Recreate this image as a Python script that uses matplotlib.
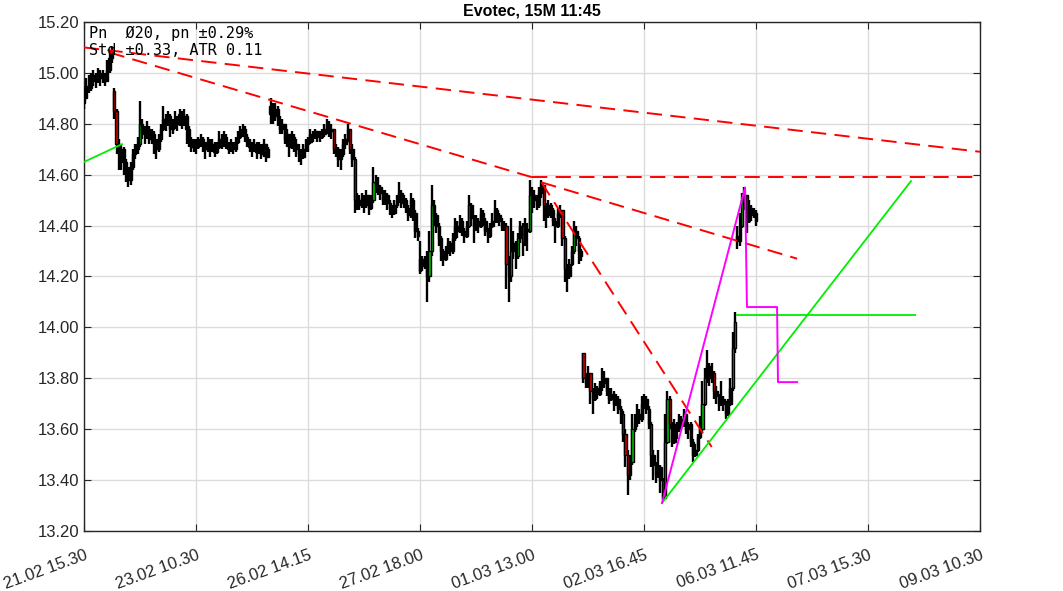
import numpy as np
import matplotlib.pyplot as plt

plt.rcParams['font.family'] = ['Liberation Sans', 'DejaVu Sans']
plt.rcParams['lines.scale_dashes'] = False

# x axis: 15 minute bars, tick every 48 bars
tick_pos = [0, 48, 96, 144, 192, 240, 288, 336, 384]
tick_labels = ["21.02 15.30", "23.02 10.30", "26.02 14.15", "27.02 18.00",
               "01.03 13.00", "02.03 16.45", "06.03 11.45", "07.03 15.30",
               "09.03 10.30"]

# first bar of every session and its open
session_open = {0: 14.88, 13: 14.93, 80: 14.84, 144: 14.22, 214: 13.90, 280: 14.36}

close_s1 = [14.90, 14.95, 14.94, 14.97, 14.99, 14.97, 15.00, 14.98, 14.99, 14.97, 15.01, 15.06, 15.08]
high_s1 = [14.95, 14.98, 14.99, 15.00, 15.01, 15.00, 15.02, 15.01, 15.01, 15.00, 15.05, 15.09, 15.10]
low_s1 = [14.86, 14.90, 14.92, 14.93, 14.95, 14.94, 14.96, 14.95, 14.96, 14.95, 14.97, 15.00, 15.04]

close_s2 = [14.85, 14.72, 14.68, 14.70, 14.65, 14.62, 14.58, 14.63, 14.68, 14.70,
            14.72, 14.80, 14.77, 14.76, 14.78, 14.74, 14.76, 14.72, 14.70, 14.74,
            14.78, 14.82, 14.80, 14.83, 14.78, 14.80, 14.82, 14.80, 14.84, 14.81,
            14.83, 14.78, 14.74, 14.71, 14.72, 14.71, 14.73, 14.74, 14.72, 14.70,
            14.73, 14.71, 14.72, 14.69, 14.71, 14.74, 14.72, 14.75, 14.72, 14.70,
            14.72, 14.70, 14.73, 14.75, 14.77, 14.78, 14.75, 14.73, 14.71, 14.70,
            14.72, 14.69, 14.71, 14.68, 14.72, 14.67, 14.70]
high_s2 = [14.94, 14.86, 14.74, 14.72, 14.71, 14.66, 14.63, 14.65, 14.70, 14.72,
           14.75, 14.89, 14.82, 14.79, 14.81, 14.79, 14.78, 14.77, 14.74, 14.76,
           14.80, 14.87, 14.84, 14.85, 14.84, 14.82, 14.85, 14.83, 14.86, 14.85,
           14.86, 14.84, 14.79, 14.75, 14.74, 14.74, 14.75, 14.76, 14.75, 14.73,
           14.75, 14.74, 14.74, 14.73, 14.73, 14.77, 14.76, 14.77, 14.76, 14.73,
           14.74, 14.73, 14.75, 14.77, 14.79, 14.80, 14.79, 14.76, 14.74, 14.73,
           14.74, 14.73, 14.73, 14.72, 14.74, 14.72, 14.71]
low_s2 = [14.82, 14.68, 14.62, 14.62, 14.60, 14.57, 14.55, 14.56, 14.62, 14.66,
          14.68, 14.71, 14.74, 14.72, 14.74, 14.72, 14.72, 14.68, 14.66, 14.69,
          14.73, 14.77, 14.77, 14.79, 14.75, 14.76, 14.78, 14.77, 14.79, 14.78,
          14.79, 14.72, 14.71, 14.69, 14.69, 14.68, 14.70, 14.71, 14.69, 14.66,
          14.69, 14.67, 14.69, 14.67, 14.68, 14.70, 14.70, 14.71, 14.70, 14.68,
          14.69, 14.68, 14.69, 14.72, 14.74, 14.75, 14.73, 14.71, 14.69, 14.67,
          14.69, 14.66, 14.68, 14.66, 14.67, 14.65, 14.67]

close_s3 = [14.87, 14.83, 14.86, 14.82, 14.78, 14.80, 14.74, 14.76, 14.71, 14.75,
            14.72, 14.70, 14.68, 14.67, 14.70, 14.72, 14.73, 14.76, 14.75, 14.77,
            14.75, 14.75, 14.76, 14.78, 14.80, 14.77, 14.78, 14.70, 14.70, 14.66,
            14.68, 14.72, 14.74, 14.78, 14.70, 14.66, 14.50, 14.50, 14.48, 14.51,
            14.48, 14.52, 14.47, 14.50, 14.57, 14.56, 14.55, 14.53, 14.50, 14.52,
            14.49, 14.47, 14.45, 14.48, 14.50, 14.53, 14.49, 14.50, 14.47, 14.44,
            14.50, 14.45, 14.38, 14.36]
high_s3 = [14.90, 14.88, 14.88, 14.87, 14.83, 14.82, 14.80, 14.78, 14.76, 14.77,
           14.76, 14.74, 14.72, 14.70, 14.72, 14.74, 14.75, 14.78, 14.77, 14.78,
           14.77, 14.77, 14.78, 14.80, 14.82, 14.81, 14.80, 14.78, 14.72, 14.71,
           14.70, 14.74, 14.76, 14.80, 14.78, 14.72, 14.67, 14.53, 14.52, 14.53,
           14.52, 14.54, 14.52, 14.52, 14.63, 14.60, 14.59, 14.56, 14.54, 14.54,
           14.53, 14.50, 14.48, 14.50, 14.52, 14.57, 14.54, 14.52, 14.51, 14.48,
           14.53, 14.51, 14.46, 14.39]
low_s3 = [14.80, 14.80, 14.81, 14.79, 14.76, 14.76, 14.72, 14.71, 14.67, 14.70,
          14.69, 14.67, 14.65, 14.64, 14.66, 14.69, 14.69, 14.72, 14.73, 14.74,
          14.73, 14.73, 14.74, 14.75, 14.76, 14.75, 14.74, 14.68, 14.67, 14.63,
          14.62, 14.67, 14.70, 14.73, 14.68, 14.63, 14.45, 14.46, 14.46, 14.47,
          14.45, 14.47, 14.44, 14.46, 14.49, 14.53, 14.52, 14.50, 14.48, 14.48,
          14.46, 14.44, 14.43, 14.44, 14.47, 14.49, 14.47, 14.47, 14.45, 14.42,
          14.43, 14.42, 14.35, 14.34]

close_s4 = [14.27, 14.24, 14.26, 14.20, 14.30, 14.48, 14.44, 14.40, 14.35, 14.30,
            14.27, 14.30, 14.33, 14.30, 14.35, 14.40, 14.38, 14.42, 14.38, 14.36,
            14.40, 14.48, 14.43, 14.40, 14.42, 14.40, 14.45, 14.42, 14.38, 14.36,
            14.40, 14.42, 14.46, 14.44, 14.42, 14.40, 14.40, 14.25, 14.20, 14.30,
            14.33, 14.28, 14.35, 14.40, 14.33, 14.38, 14.38, 14.52, 14.52, 14.50,
            14.48, 14.53, 14.56, 14.48, 14.44, 14.48, 14.46, 14.42, 14.40, 14.45,
            14.46, 14.35, 14.23, 14.20, 14.25, 14.30, 14.38, 14.35, 14.30, 14.28]
high_s4 = [14.34, 14.28, 14.28, 14.30, 14.38, 14.56, 14.50, 14.45, 14.41, 14.36,
           14.31, 14.32, 14.35, 14.34, 14.37, 14.43, 14.42, 14.44, 14.43, 14.39,
           14.42, 14.52, 14.49, 14.44, 14.44, 14.43, 14.47, 14.46, 14.43, 14.39,
           14.41, 14.45, 14.50, 14.47, 14.45, 14.43, 14.42, 14.41, 14.28, 14.43,
           14.38, 14.34, 14.37, 14.42, 14.41, 14.43, 14.41, 14.58, 14.55, 14.54,
           14.52, 14.55, 14.58, 14.56, 14.49, 14.50, 14.49, 14.47, 14.43, 14.47,
           14.48, 14.46, 14.36, 14.25, 14.27, 14.32, 14.42, 14.40, 14.36, 14.31]
low_s4 = [14.21, 14.22, 14.23, 14.10, 14.18, 14.28, 14.40, 14.37, 14.32, 14.26,
          14.24, 14.26, 14.29, 14.28, 14.29, 14.34, 14.35, 14.37, 14.36, 14.33,
          14.35, 14.39, 14.40, 14.33, 14.38, 14.37, 14.39, 14.40, 14.36, 14.33,
          14.35, 14.39, 14.41, 14.41, 14.40, 14.38, 14.38, 14.15, 14.10, 14.18,
          14.27, 14.23, 14.27, 14.33, 14.28, 14.32, 14.30, 14.37, 14.45, 14.47,
          14.46, 14.47, 14.51, 14.42, 14.39, 14.43, 14.43, 14.40, 14.33, 14.39,
          14.43, 14.32, 14.18, 14.14, 14.19, 14.24, 14.29, 14.32, 14.25, 14.26]

close_s5 = [13.80, 13.78, 13.82, 13.75, 13.72, 13.76, 13.74, 13.78, 13.78, 13.80,
            13.75, 13.72, 13.74, 13.70, 13.72, 13.68, 13.66, 13.58, 13.50, 13.42,
            13.47, 13.60, 13.63, 13.66, 13.64, 13.70, 13.72, 13.68, 13.62, 13.50,
            13.46, 13.42, 13.45, 13.40, 13.33, 13.55, 13.72, 13.62, 13.55, 13.62,
            13.60, 13.64, 13.62, 13.66, 13.60, 13.62, 13.55, 13.50, 13.52, 13.57,
            13.60, 13.70, 13.80, 13.85, 13.80, 13.82, 13.75, 13.73, 13.70, 13.72,
            13.70, 13.66, 13.70, 13.76, 13.92, 14.02]
high_s5 = [13.90, 13.82, 13.85, 13.82, 13.76, 13.78, 13.77, 13.79, 13.84, 13.83,
           13.80, 13.76, 13.76, 13.75, 13.74, 13.73, 13.69, 13.67, 13.60, 13.52,
           13.50, 13.66, 13.66, 13.70, 13.68, 13.73, 13.74, 13.73, 13.69, 13.63,
           13.52, 13.47, 13.52, 13.46, 13.41, 13.66, 13.75, 13.73, 13.63, 13.64,
           13.63, 13.66, 13.65, 13.68, 13.66, 13.63, 13.63, 13.56, 13.54, 13.58,
           13.65, 13.79, 13.84, 13.91, 13.86, 13.86, 13.83, 13.77, 13.74, 13.79,
           13.73, 13.71, 13.72, 13.80, 13.98, 14.06]
low_s5 = [13.78, 13.76, 13.76, 13.70, 13.66, 13.71, 13.72, 13.73, 13.75, 13.76,
          13.73, 13.70, 13.71, 13.67, 13.69, 13.66, 13.62, 13.55, 13.45, 13.34,
          13.40, 13.46, 13.59, 13.61, 13.62, 13.63, 13.68, 13.66, 13.60, 13.45,
          13.40, 13.39, 13.41, 13.35, 13.32, 13.33, 13.54, 13.60, 13.53, 13.54,
          13.56, 13.59, 13.60, 13.61, 13.58, 13.56, 13.53, 13.47, 13.49, 13.51,
          13.56, 13.59, 13.69, 13.78, 13.77, 13.78, 13.72, 13.70, 13.67, 13.69,
          13.67, 13.64, 13.65, 13.69, 13.75, 13.90]

close_s6 = [14.34, 14.40, 14.50, 14.52, 14.42, 14.47, 14.44, 14.45, 14.42]
high_s6 = [14.40, 14.45, 14.53, 14.55, 14.52, 14.50, 14.48, 14.47, 14.46]
low_s6 = [14.31, 14.32, 14.39, 14.46, 14.37, 14.41, 14.42, 14.43, 14.40]

# trend lines (bar index, price)
red_long = ([0, 384], [15.10, 14.69])
red_upper = ([11, 192], [15.08, 14.59])
red_flat = ([192, 384], [14.59, 14.59])
red_mid = ([196, 305.6], [14.57, 14.27])
red_steep = ([196, 269], [14.57, 13.53])
green_old = ([0, 16.3], [14.65, 14.72])
green_up = ([247.7, 354.4], [13.31, 14.575])
green_flat = ([280, 356], [14.05, 14.05])
magenta_x = [247.7, 283.3, 284.1, 297, 297.4, 305.6]
magenta_y = [13.31, 14.55, 14.08, 14.08, 13.785, 13.785]

closes = np.array(close_s1 + close_s2 + close_s3 + close_s4 + close_s5 + close_s6)
highs = np.array(high_s1 + high_s2 + high_s3 + high_s4 + high_s5 + high_s6)
lows = np.array(low_s1 + low_s2 + low_s3 + low_s4 + low_s5 + low_s6)
opens = np.r_[closes[0], closes[:-1]]
for k, v in session_open.items():
    opens[k] = v
highs = np.maximum(highs, np.maximum(opens, closes))
lows = np.minimum(lows, np.minimum(opens, closes))
x = np.arange(len(closes))

fig = plt.figure(figsize=(10.63, 5.91), dpi=100)
ax = fig.add_axes([0.079, 0.1015, 0.843, 0.8613])
ax.set_axisbelow(True)
ax.grid(True, color='#dcdcdc', lw=1)

ax.vlines(x, lows, highs, color='black', lw=1.7, zorder=3)
body_lo = np.minimum(opens, closes)
body_h = np.maximum(np.abs(closes - opens), 0.006)
# only the bigger candle bodies show their colour, small ones stay black
fills = np.where(body_h < 0.07, 'black', np.where(closes >= opens, '#00bb00', '#cc0000'))
ax.bar(x, body_h, bottom=body_lo, width=1.0, color=fills, edgecolor='black', lw=1.0, zorder=4)

dash = dict(color='red', lw=1.4, dashes=(11, 6), zorder=5)
for xs, ys in [red_long, red_upper, red_flat, red_mid, red_steep]:
    ax.plot(xs, ys, **dash)
for xs, ys in [green_old, green_up, green_flat]:
    ax.plot(xs, ys, color='#00ee00', lw=1.3, zorder=5)
ax.plot(magenta_x, magenta_y, color='#ff00ff', lw=1.4, zorder=5)

ax.set_xlim(0, 384)
ax.set_ylim(13.2, 15.2)
ax.set_yticks(np.arange(13.2, 15.21, 0.2))
ax.set_yticklabels([f"{v:.2f}" for v in np.arange(13.2, 15.21, 0.2)], fontsize=12)
ax.set_xticks(tick_pos)
ax.set_xticklabels(tick_labels, rotation=20, ha='right', rotation_mode='anchor', fontsize=12)
ax.tick_params(direction='in', top=True, right=True, length=5, width=0.8, color='#262626',
               labelcolor='#262626')
ax.tick_params(axis='x', pad=12)
for s in ax.spines.values():
    s.set_color('#262626')
    s.set_linewidth(1)

ax.set_title("Evotec, 15M 11:45", fontsize=11.5, fontweight='bold', pad=5)
ax.text(0.006, 0.992, "Pn  \u00d820, pn \u00b10.29%\nStd \u00b10.33, ATR 0.11", transform=ax.transAxes,
        family='DejaVu Sans Mono', fontsize=11, va='top', ha='left', linespacing=1.15, zorder=6)

fig.savefig("out.png", dpi=100)
